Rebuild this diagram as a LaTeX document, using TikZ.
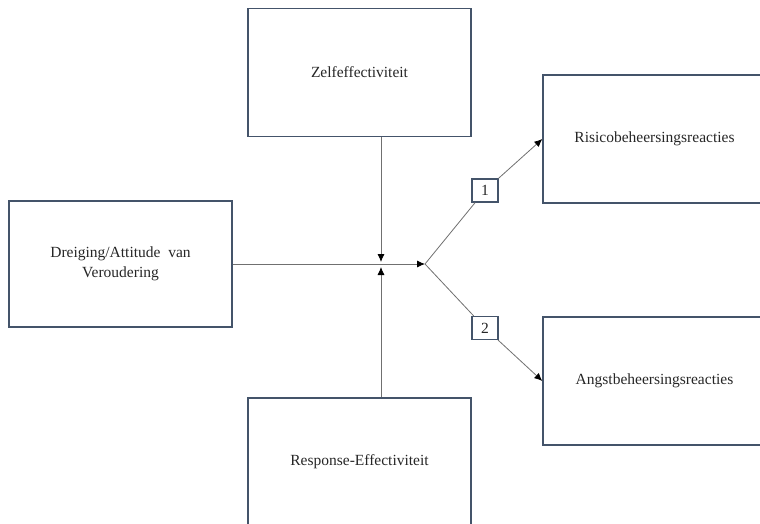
\documentclass[tikz,border=0pt]{standalone}
\usepackage{fontspec}
\setmainfont{Liberation Serif}
\usepackage{xcolor}
\usetikzlibrary{arrows.meta, positioning, calc}
\definecolor{boxline}{HTML}{44546A}
\definecolor{conline}{HTML}{707070}

\begin{document}
\begin{tikzpicture}[x=1pt, y=-1pt,
    every node/.style={font=\fontsize{15.5}{20}\selectfont, text=black!85},
    concept/.style={draw=boxline, line width=1.3pt, minimum width=223pt,
      minimum height=128pt, align=center, inner sep=0pt},
    numbox/.style={draw=boxline, line width=1.2pt, fill=white,
      minimum width=26pt, minimum height=23pt, inner sep=0pt},
    link/.style={draw=conline, line width=0.8pt},
    arrowed/.style={-{Latex[length=8pt,width=7pt,color=black]}}]
  \useasboundingbox (0,0) rectangle (760,524);

  % boxes
  \node[concept] (zelf) at (359.5,72.5) {Zelfeffectiviteit};
  \node[concept, minimum height=126pt] (dreiging) at (120.5,264)
    {Dreiging/Attitude\ \ van\\Veroudering};
  \node[concept] (response) at (359.5,462) {Response-Effectiviteit};
  \node[concept] (risico) at (654.5,139) {Risicobeheersingsreacties};
  \node[concept] (angst) at (654.5,381) {Angstbeheersingsreacties};

  \coordinate (meet) at (381,264);
  \coordinate (split) at (425,264);

  \draw[link, arrowed] (dreiging) -- (split);
  \draw[link, arrowed, shorten >=2pt] (zelf.south -| meet) -- (meet);
  \draw[link, arrowed, shorten >=3pt] (response.north -| meet) -- (meet);

  % numbered branches
  \node[numbox] (one) at (485,190.5) {1};
  \node[numbox] (two) at (485,328) {2};
  \draw[link] (split) -- (one);
  \draw[link, arrowed] (one) -- (risico.west);
  \draw[link] (split) -- (two);
  \draw[link, arrowed] (two) -- (angst.west);
\end{tikzpicture}
\end{document}
